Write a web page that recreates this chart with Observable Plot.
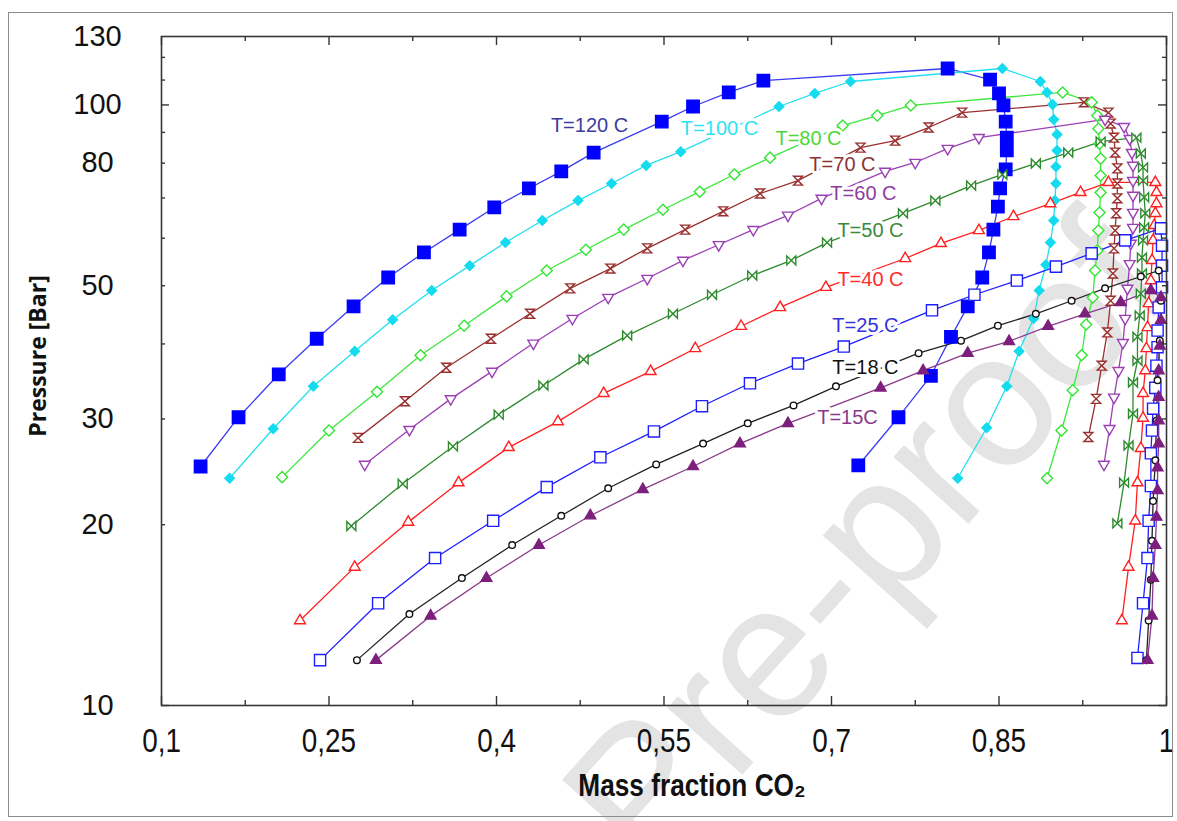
<!DOCTYPE html>
<html><head><meta charset="utf-8">
<script src="https://cdn.jsdelivr.net/npm/d3@7"></script>
<script src="https://cdn.jsdelivr.net/npm/@observablehq/plot@0.6"></script>
<style>
html,body{margin:0;padding:0;background:#fff;}
#wrap{position:relative;width:1177px;height:821px;overflow:hidden;background:#fff;}
#border{position:absolute;left:8px;top:12px;width:1163px;height:803px;border:1px solid #8c8c8c;pointer-events:none;}
#chart svg{display:block;}
</style></head><body>
<div id="wrap"><div id="chart"></div><div id="border"></div></div>
<script>
// ---- data (mass fraction CO2, pressure in bar) ----
const t120x=[0.135,0.169,0.205,0.239,0.272,0.303,0.335,0.367,0.398,0.429,0.458,0.487,0.548,0.576,0.608,0.639,0.804,0.842,0.850,0.854,0.856,0.857,0.857,0.856,0.851,0.849,0.845,0.841,0.835,0.822,0.807,0.789,0.760,0.724];
const t120y=[25.0,30.2,35.6,40.8,46.2,51.6,56.8,62.0,67.5,72.6,77.5,83.3,93.8,99.4,104.9,109.8,115.0,110.2,104.5,99.8,93.8,88.2,84.0,78.1,72.6,67.7,62.0,56.8,51.6,46.2,41.1,35.4,30.2,25.1];
const t100x=[0.161,0.200,0.236,0.273,0.307,0.342,0.376,0.408,0.441,0.473,0.503,0.534,0.565,0.653,0.685,0.717,0.853,0.887,0.893,0.898,0.899,0.902,0.902,0.901,0.901,0.900,0.899,0.896,0.892,0.886,0.881,0.868,0.857,0.839,0.813];
const t100y=[23.9,28.9,34.0,38.9,43.9,49.1,54.0,59.0,64.2,69.3,74.0,79.3,83.6,99.4,104.5,109.4,115.0,109.4,104.9,100.2,94.6,89.3,84.0,78.9,74.0,69.3,64.2,59.0,54.2,49.1,44.1,38.9,34.0,29.0,23.9];
const t80x=[0.208,0.250,0.293,0.332,0.371,0.409,0.445,0.480,0.514,0.549,0.582,0.613,0.645,0.710,0.741,0.771,0.907,0.933,0.938,0.939,0.940,0.941,0.941,0.941,0.940,0.939,0.938,0.936,0.934,0.928,0.924,0.916,0.906,0.893];
const t80y=[24.0,28.7,33.3,38.3,42.9,48.0,53.0,57.4,62.0,66.9,71.7,76.6,81.7,92.4,96.0,99.8,104.9,101.0,96.0,91.3,86.2,81.4,76.3,71.5,66.2,61.8,57.2,53.0,47.8,43.1,38.3,33.5,28.7,23.9];
const t70x=[0.276,0.318,0.355,0.395,0.430,0.466,0.502,0.535,0.569,0.603,0.636,0.670,0.726,0.757,0.787,0.817,0.926,0.948,0.950,0.953,0.954,0.956,0.956,0.956,0.955,0.954,0.953,0.952,0.950,0.947,0.942,0.937,0.930];
const t70y=[27.9,32.1,36.5,40.8,44.9,49.5,53.4,57.7,62.0,66.5,71.2,74.8,84.9,87.2,91.7,97.1,101.0,97.1,93.1,88.2,83.3,78.4,74.0,69.9,66.0,61.8,57.7,52.4,47.2,41.8,36.8,32.4,28.0];
const t60x=[0.282,0.322,0.359,0.396,0.433,0.468,0.500,0.535,0.567,0.599,0.630,0.661,0.691,0.748,0.775,0.804,0.832,0.945,0.962,0.967,0.969,0.970,0.970,0.970,0.970,0.970,0.968,0.967,0.965,0.963,0.961,0.957,0.953,0.949,0.944];
const t60y=[25.2,28.8,32.4,36.0,40.1,44.1,47.8,51.4,55.1,58.5,62.0,65.5,69.9,77.5,80.2,84.6,88.2,94.6,92.0,87.9,83.3,79.3,74.8,70.7,66.2,62.5,58.8,54.4,49.5,44.1,40.2,36.1,32.6,28.9,25.2];
const t50x=[0.270,0.316,0.361,0.402,0.442,0.478,0.517,0.558,0.593,0.629,0.664,0.696,0.764,0.793,0.825,0.853,0.883,0.912,0.941,0.973,0.977,0.979,0.979,0.980,0.981,0.980,0.979,0.978,0.978,0.977,0.976,0.974,0.974,0.970,0.970,0.966,0.962,0.956];
const t50y=[19.9,23.4,27.0,30.5,34.1,37.7,41.3,44.9,48.3,52.0,55.1,59.0,66.0,69.3,73.4,76.6,79.9,83.3,86.9,88.2,83.0,78.7,74.8,70.2,66.0,62.5,59.5,55.7,52.4,48.5,44.6,41.1,37.5,34.5,30.6,27.1,23.5,20.1];
const t40x=[0.224,0.273,0.321,0.366,0.411,0.455,0.496,0.538,0.578,0.619,0.654,0.695,0.766,0.798,0.832,0.863,0.896,0.923,0.948,0.990,0.991,0.991,0.990,0.989,0.988,0.987,0.986,0.984,0.983,0.982,0.981,0.979,0.979,0.977,0.974,0.972,0.966,0.960];
const t40y=[13.85,17.0,20.2,23.5,26.9,29.7,33.1,36.0,39.3,42.8,46.0,49.7,55.5,58.8,61.8,65.2,68.5,71.5,74.3,74.3,71.5,68.5,66.0,63.0,59.5,55.1,51.0,46.7,42.6,39.3,36.1,33.1,30.1,26.8,23.5,20.3,17.0,13.85];
const t25x=[0.242,0.294,0.345,0.397,0.445,0.493,0.541,0.584,0.627,0.670,0.711,0.790,0.828,0.866,0.901,0.933,0.963,0.995,0.996,0.996,0.996,0.993,0.992,0.992,0.991,0.990,0.988,0.987,0.986,0.986,0.984,0.983,0.979,0.974];
const t25y=[11.9,14.8,17.6,20.3,23.1,25.9,28.6,31.5,34.4,37.1,39.6,45.5,48.3,51.0,53.8,56.6,59.5,62.3,58.3,54.0,49.7,46.0,42.1,39.5,36.8,33.8,31.2,28.7,26.3,23.2,20.3,17.6,14.8,12.0];
const t18x=[0.275,0.322,0.369,0.414,0.458,0.500,0.543,0.585,0.625,0.666,0.704,0.778,0.816,0.849,0.883,0.915,0.945,0.977,0.993,0.995,0.994,0.992,0.991,0.990,0.988,0.987,0.986,0.984,0.982];
const t18y=[11.9,14.2,16.3,18.5,20.7,23.0,25.2,27.3,29.5,31.6,34.0,38.6,40.5,42.9,44.9,47.2,49.5,51.8,53.0,47.2,40.5,34.8,29.8,25.6,21.9,18.8,16.2,13.85,11.9];
const t15x=[0.292,0.341,0.391,0.438,0.484,0.531,0.576,0.618,0.661,0.744,0.782,0.822,0.859,0.894,0.927,0.959,0.986,0.995,0.995,0.994,0.993,0.993,0.993,0.993,0.992,0.992,0.991,0.990,0.988,0.987,0.983];
const t15y=[11.9,14.1,16.3,18.5,20.7,22.9,25.0,27.3,29.5,33.8,36.1,38.6,40.4,42.8,44.9,46.9,49.1,47.8,43.8,39.7,36.1,32.6,29.8,27.3,24.9,22.8,20.6,18.5,16.3,14.1,11.9];

const seriesNames=["T=120 C","T=100 C","T=80 C","T=70 C","T=60 C","T=50 C","T=40 C","T=25 C","T=18 C","T=15C"];
const labelX=[0.4833,0.5997,0.6794,0.7098,0.7286,0.7349,0.7349,0.7304,0.7304,0.7143];
const labelY=[92.4,91.3,87.9,79.6,71.2,61.8,51.2,42.9,36.5,30.2];

const xTickLabels=[0.1,0.25,0.4,0.55,0.7,0.85,1];
const xMinorTicks=[0.175,0.325,0.475,0.625,0.775,0.925];
const yTickLabels=[10,20,30,50,80,100,130];
const yMajorTicks=[10,100];
const yMinorTicks=[20,30,40,50,60,70,80,90,110,120];

// ---- marker symbols ----
const S3=Math.sqrt(3);
const triUp={draw(c,s){const w=Math.sqrt(s)*0.68,h=w*S3;c.moveTo(0,-2*h/3);c.lineTo(w,h/3);c.lineTo(-w,h/3);c.closePath();}};
const triDown={draw(c,s){const w=Math.sqrt(s)*0.68,h=w*S3;c.moveTo(0,2*h/3);c.lineTo(w,-h/3);c.lineTo(-w,-h/3);c.closePath();}};
const hourglass={draw(c,s){const a=Math.sqrt(s)*0.55;c.moveTo(-a,-a);c.lineTo(a,-a);c.lineTo(-a,a);c.lineTo(a,a);c.closePath();}};
const bowtie={draw(c,s){const a=Math.sqrt(s)*0.55;c.moveTo(-a,-a);c.lineTo(a,a);c.lineTo(a,-a);c.lineTo(-a,a);c.closePath();}};

const xs=[t120x,t100x,t80x,t70x,t60x,t50x,t40x,t25x,t18x,t15x];
const ys=[t120y,t100y,t80y,t70y,t60y,t50y,t40y,t25y,t18y,t15y];
const styles=[
 {line:"#3c3cf2",stroke:"#0000ff",fill:"#0000ff",symbol:"square",r:7,label:"#3c3c9c"},
 {line:"#22dfee",stroke:"#14dbee",fill:"#14dbee",symbol:"diamond2",r:4.3,label:"#2fe3f3"},
 {line:"#3fe63f",stroke:"#33e633",fill:"white",symbol:"diamond2",r:5,label:"#4fd636"},
 {line:"#9b2f2f",stroke:"#9b2f2f",fill:"white",symbol:hourglass,r:4.6,label:"#8b3434"},
 {line:"#9b3fb5",stroke:"#9b3fb5",fill:"white",symbol:triDown,r:4.5,label:"#8e3c9e"},
 {line:"#2d8a2d",stroke:"#2d8a2d",fill:"white",symbol:bowtie,r:4.6,label:"#3b8a3b"},
 {line:"#ff2020",stroke:"#ff2020",fill:"white",symbol:triUp,r:4.5,label:"#ff2b2b"},
 {line:"#1e1eff",stroke:"#1e1eff",fill:"white",symbol:"square",r:6.3,label:"#3333dd"},
 {line:"#222222",stroke:"#111111",fill:"white",symbol:"circle",r:3.3,label:"#111111"},
 {line:"#8a3a8a",stroke:"#7d1f7d",fill:"#7d1f7d",symbol:triUp,r:4.5,label:"#8a3a8a"}
];

const innerW=1177-161-11, innerH=821-36-116;
const frameStroke="#363636";
const fmt=d=>String(d).replace(".",",");

const marks=[];
// watermark (behind everything)
marks.push(Plot.text(["Journal Pre-proof"],{frameAnchor:"top-left",dx:1133-161,dy:249-36,rotate:-48,textAnchor:"end",lineAnchor:"middle",fontSize:190,fontFamily:"Liberation Sans, Arial, sans-serif",fill:"#e4e4e4"}));

// series lines
seriesNames.forEach((name,i)=>{
  const data=xs[i].map((x,j)=>({x,y:ys[i][j]}));
  marks.push(Plot.line(data,{x:"x",y:"y",stroke:styles[i].line,strokeWidth:1.3}));
});
// series markers
seriesNames.forEach((name,i)=>{
  const data=xs[i].map((x,j)=>({x,y:ys[i][j]}));
  const st=styles[i];
  marks.push(Plot.dot(data,{x:"x",y:"y",symbol:st.symbol,r:st.r,fill:st.fill,stroke:st.stroke,strokeWidth:1.4}));
});
// series labels
seriesNames.forEach((name,i)=>{
  marks.push(Plot.text([name],{x:()=>labelX[i],y:()=>labelY[i],text:d=>d,fill:styles[i].label,stroke:"white",strokeWidth:6,fontSize:20,fontFamily:"Liberation Sans, Arial, sans-serif"}));
});

// frame and inward ticks
marks.push(Plot.frame({stroke:frameStroke,strokeWidth:1.6}));
marks.push(Plot.tickX(xTickLabels,{x:d=>d,insetTop:innerH-9,stroke:frameStroke,strokeWidth:1.4}));
marks.push(Plot.tickX(xTickLabels,{x:d=>d,insetBottom:innerH-9,stroke:frameStroke,strokeWidth:1.4}));
marks.push(Plot.tickX(xMinorTicks,{x:d=>d,insetTop:innerH-5,stroke:frameStroke,strokeWidth:1.4}));
marks.push(Plot.tickX(xMinorTicks,{x:d=>d,insetBottom:innerH-5,stroke:frameStroke,strokeWidth:1.4}));
marks.push(Plot.tickY(yMajorTicks,{y:d=>d,insetRight:innerW-8,stroke:frameStroke,strokeWidth:1.4}));
marks.push(Plot.tickY(yMajorTicks,{y:d=>d,insetLeft:innerW-8,stroke:frameStroke,strokeWidth:1.4}));
marks.push(Plot.tickY(yMinorTicks,{y:d=>d,insetRight:innerW-4,stroke:frameStroke,strokeWidth:1.4}));
marks.push(Plot.tickY(yMinorTicks,{y:d=>d,insetLeft:innerW-4,stroke:frameStroke,strokeWidth:1.4}));

// axes (labels only)
marks.push(Plot.axisX(xTickLabels,{tickSize:0,tickPadding:22,tickFormat:fmt,label:null,fontSize:34,fontFamily:"Liberation Sans, Arial, sans-serif",fill:"#111"}));
marks.push(Plot.axisY(yTickLabels,{tickSize:0,tickPadding:64,textAnchor:"middle",label:null,fontSize:29,fontFamily:"Liberation Sans, Arial, sans-serif",fill:"#111"}));

// axis titles
const xTitle="Mass fraction CO₂", yTitle="Pressure [Bar]";
marks.push(Plot.text([xTitle],{frameAnchor:"bottom",textAnchor:"middle",lineAnchor:"bottom",dx:28,dy:90,fontSize:32,fontWeight:"bold",fontFamily:"Liberation Sans, Arial, sans-serif",fill:"#111"}));
marks.push(Plot.text([yTitle],{frameAnchor:"left",textAnchor:"middle",lineAnchor:"middle",rotate:-90,dx:-123,dy:-15,fontSize:23,fontWeight:"bold",fontFamily:"Open Sans, sans-serif",fill:"#111"}));

const chart=Plot.plot({
  width:1177,height:821,
  marginLeft:161,marginRight:11,marginTop:36,marginBottom:116,
  x:{domain:[0.1,1]},
  y:{type:"log",domain:[10,130]},
  style:{background:"transparent",overflow:"visible"},
  marks
});
// narrow (Arial-Narrow-like) rendering of the x-axis texts: squeeze each text about its own anchor
const squeeze=t=>{
  let x=parseFloat(t.getAttribute("x"));
  if(!isFinite(x)) x=0;
  const tr=t.getAttribute("transform")||"";
  t.setAttribute("transform",`${tr} translate(${x},0) scale(0.82,1) translate(${-x},0)`);
};
chart.querySelectorAll('g[aria-label="x-axis tick label"] text').forEach(squeeze);
chart.querySelectorAll('text').forEach(t=>{ if(t.textContent===xTitle) squeeze(t); });
document.getElementById("chart").appendChild(chart);
</script>
</body></html>
